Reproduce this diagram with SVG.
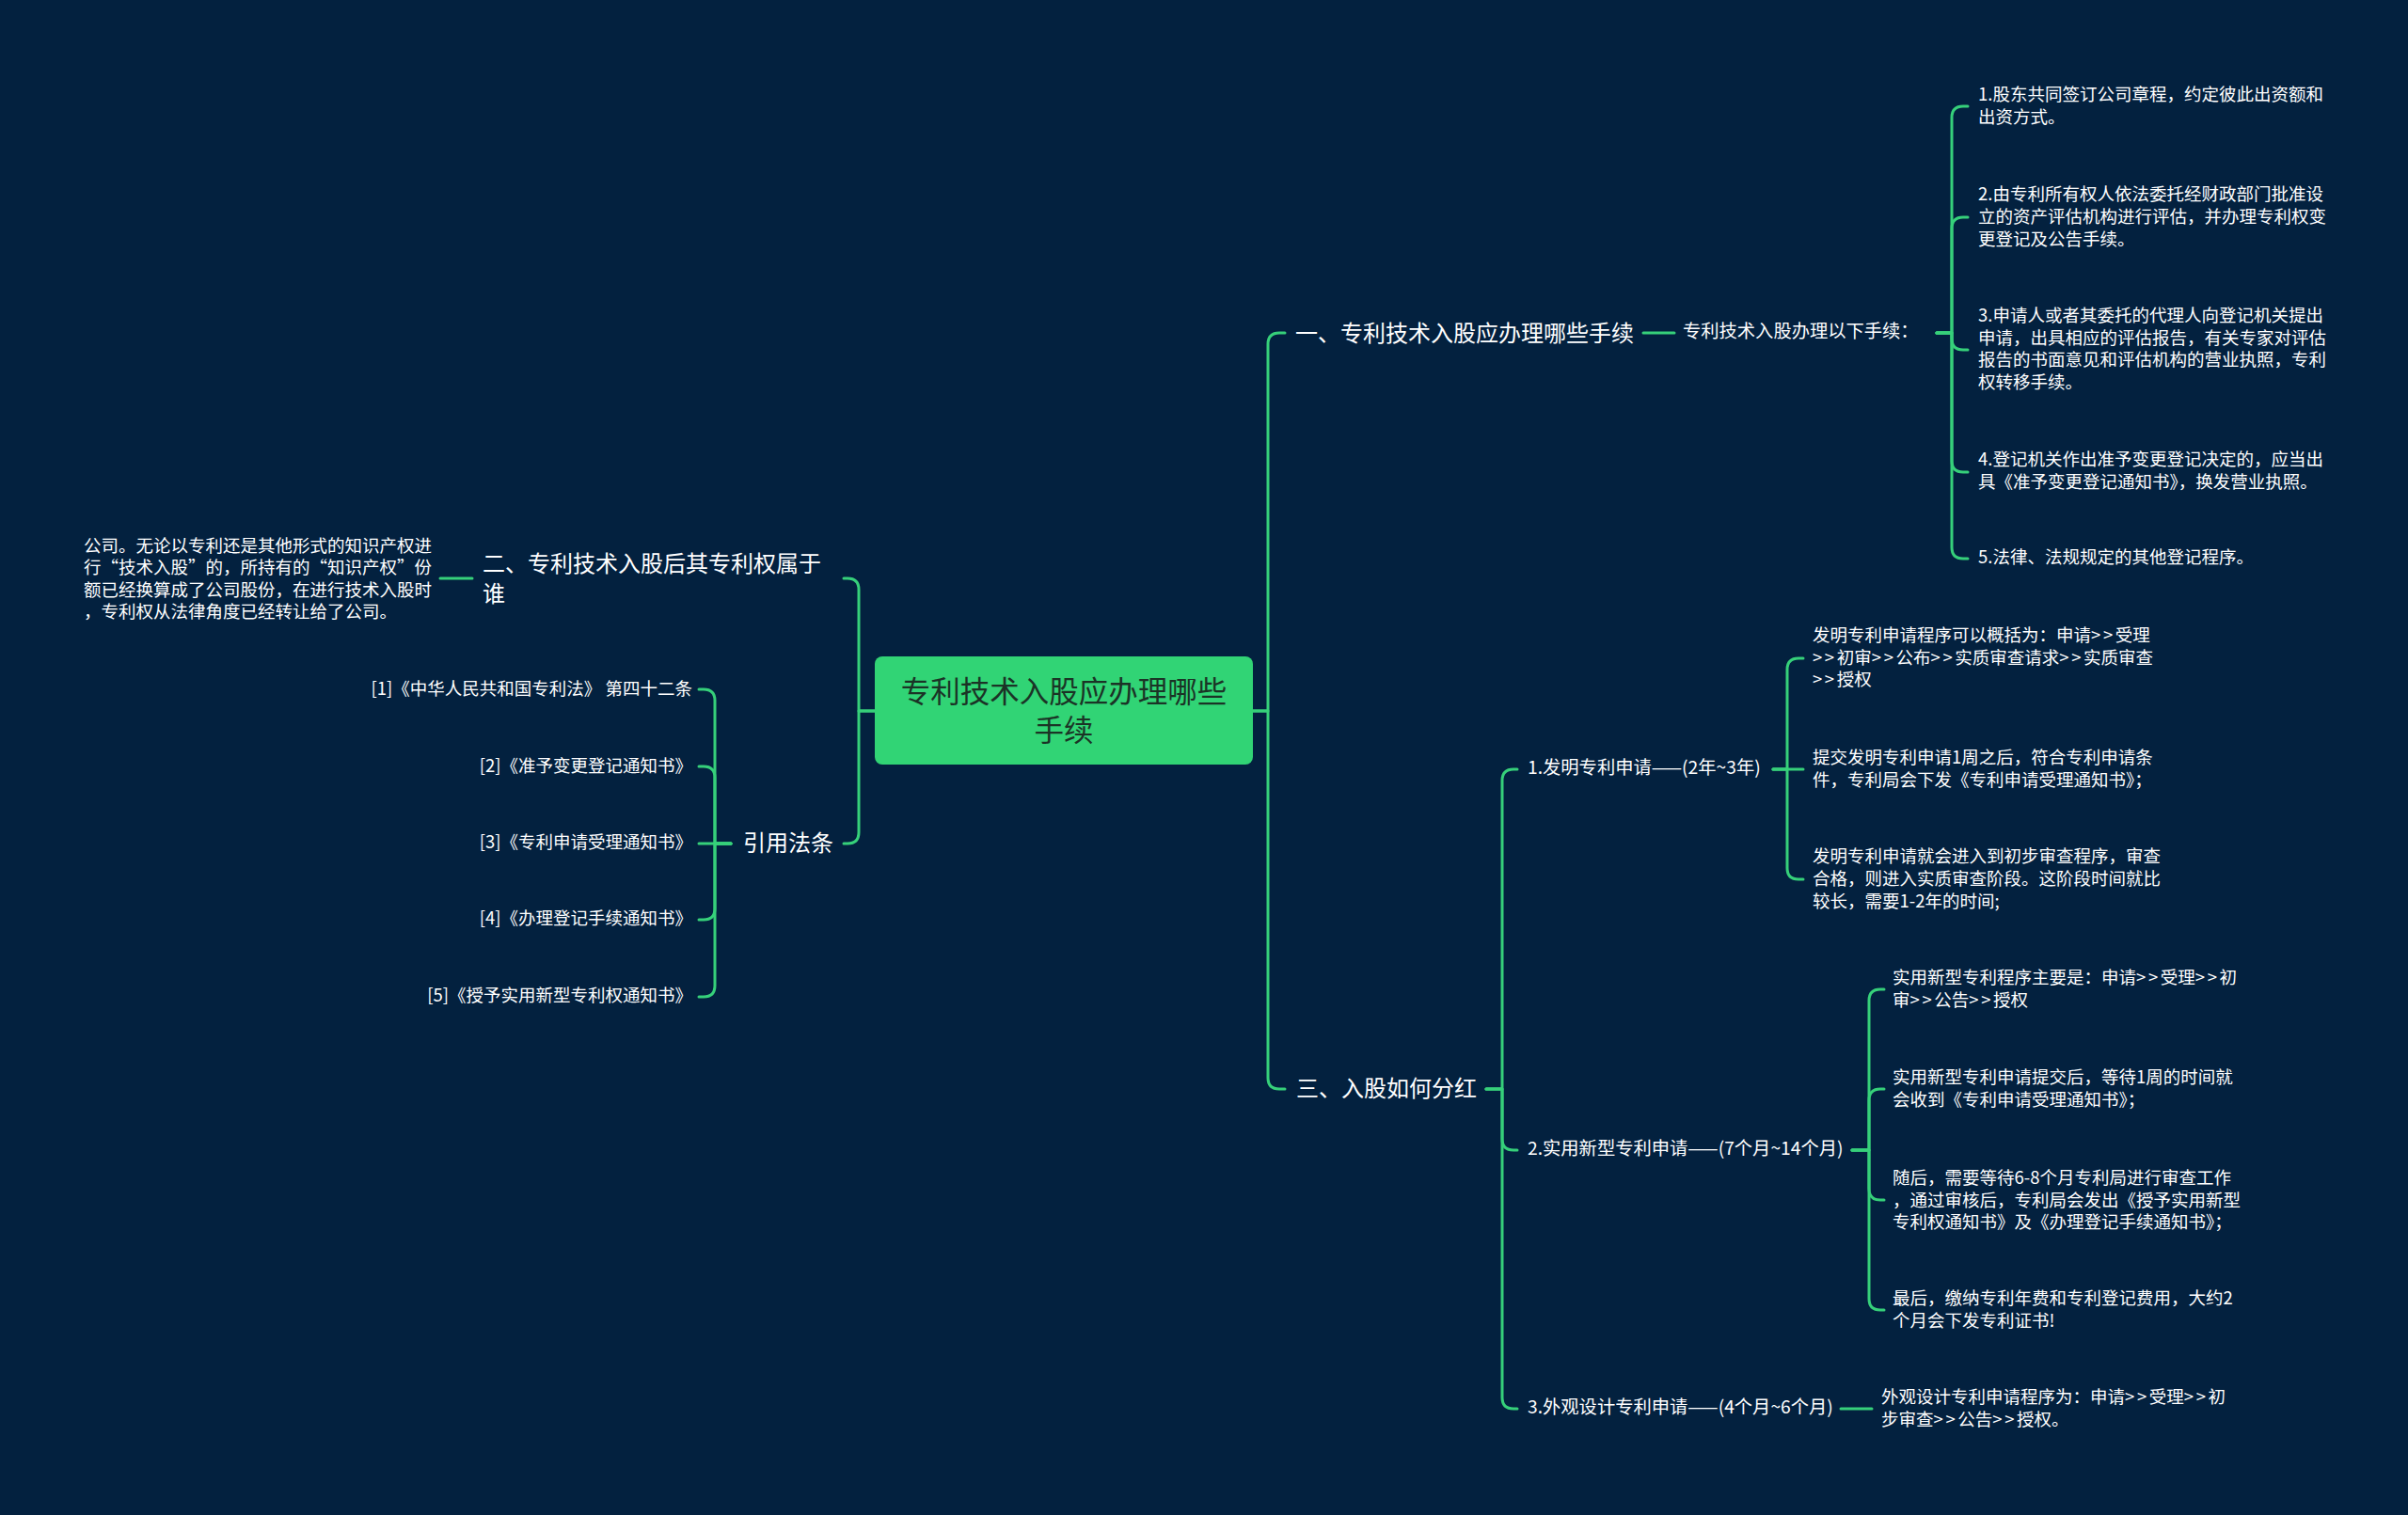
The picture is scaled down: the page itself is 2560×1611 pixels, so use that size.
<svg xmlns="http://www.w3.org/2000/svg" width="2560" height="1611" viewBox="0 0 2560 1611">
<style>
text{font-family:"Noto Sans CJK SC","Noto Sans",sans-serif;fill:#ffffff;dominant-baseline:central}
.leaf{font-size:18.5px}
.mid{font-size:19.3px}
.br{font-size:24px}
.root{font-size:31.5px;fill:#1b3326;text-anchor:middle}
.end{text-anchor:end}
.g{letter-spacing:2.6px}
#connectors path{fill:none;stroke:#36d07a;stroke-width:3;stroke-linecap:round;stroke-linejoin:round}
</style>
<rect x="0" y="0" width="2560" height="1611" fill="#03213f"/>
<g id="connectors">
<path d="M1332 756 H1348 V366 Q1348 354 1360 354 H1366"/>
<path d="M1332 756 H1348 V1146 Q1348 1158 1360 1158 H1366"/>
<path d="M930 756 H913 V627 Q913 615 901 615 H897"/>
<path d="M930 756 H913 V885 Q913 897 901 897 H897"/>
<path d="M1747 354 H1780"/>
<path d="M2059 354 H2075 V125 Q2075 113 2087 113 H2092"/>
<path d="M2059 354 H2075 V243 Q2075 231 2087 231 H2092"/>
<path d="M2059 354 H2075 V360 Q2075 372 2087 372 H2092"/>
<path d="M2059 354 H2075 V490 Q2075 502 2087 502 H2092"/>
<path d="M2059 354 H2075 V582 Q2075 594 2087 594 H2092"/>
<path d="M1580 1158 H1597 V830 Q1597 818 1609 818 H1613"/>
<path d="M1580 1158 H1597 V1211 Q1597 1223 1609 1223 H1613"/>
<path d="M1580 1158 H1597 V1486 Q1597 1498 1609 1498 H1613"/>
<path d="M1885 818 H1900 V712 Q1900 700 1912 700 H1917"/>
<path d="M1885 818 H1917"/>
<path d="M1885 818 H1900 V923 Q1900 935 1912 935 H1917"/>
<path d="M1969 1223 H1987 V1064 Q1987 1052 1999 1052 H2003"/>
<path d="M1969 1223 H1987 V1170 Q1987 1158 1999 1158 H2003"/>
<path d="M1969 1223 H1987 V1264 Q1987 1276 1999 1276 H2003"/>
<path d="M1969 1223 H1987 V1381 Q1987 1393 1999 1393 H2003"/>
<path d="M1957 1498 H1990"/>
<path d="M502 615 H468"/>
<path d="M777 897 H760 V745 Q760 733 748 733 H743"/>
<path d="M777 897 H760 V827 Q760 815 748 815 H743"/>
<path d="M777 897 H743"/>
<path d="M777 897 H760 V966 Q760 978 748 978 H743"/>
<path d="M777 897 H760 V1048 Q760 1060 748 1060 H743"/>
</g>
<g id="root">
<rect x="930" y="698" width="402" height="115" rx="8" fill="#31d475"/>
<text class="root" x="1131" y="733">专利技术入股应办理哪些</text>
<text class="root" x="1131" y="774">手续</text>
</g>
<g id="b1"><text class="br" x="1377" y="352">一、专利技术入股应办理哪些手续</text></g>
<g id="b1s"><text class="mid" x="1789" y="351">专利技术入股办理以下手续：</text></g>
<g id="b1l1"><text class="leaf" x="2103" y="98.5">1.股东共同签订公司章程，约定彼此出资额和</text><text class="leaf" x="2103" y="123">出资方式。</text></g>
<g id="b1l2"><text class="leaf" x="2103" y="205">2.由专利所有权人依法委托经财政部门批准设</text><text class="leaf" x="2103" y="229">立的资产评估机构进行评估，并办理专利权变</text><text class="leaf" x="2103" y="252.5">更登记及公告手续。</text></g>
<g id="b1l3"><text class="leaf" x="2103" y="334">3.申请人或者其委托的代理人向登记机关提出</text><text class="leaf" x="2103" y="357.5">申请，出具相应的评估报告，有关专家对评估</text><text class="leaf" x="2103" y="381">报告的书面意见和评估机构的营业执照，专利</text><text class="leaf" x="2103" y="405">权转移手续。</text></g>
<g id="b1l4"><text class="leaf" x="2103" y="487">4.登记机关作出准予变更登记决定的，应当出</text><text class="leaf" x="2103" y="511">具《准予变更登记通知书》，换发营业执照。</text></g>
<g id="b1l5"><text class="leaf" x="2103" y="591">5.法律、法规规定的其他登记程序。</text></g>
<g id="b3"><text class="br" x="1378" y="1155">三、入股如何分红</text></g>
<g id="b3a"><text class="mid" x="1624" y="815">1.发明专利申请——(2年~3年)</text></g>
<g id="b3b"><text class="mid" x="1624" y="1220">2.实用新型专利申请——(7个月~14个月)</text></g>
<g id="b3c"><text class="mid" x="1624" y="1495">3.外观设计专利申请——(4个月~6个月)</text></g>
<g id="b3a1"><text class="leaf" x="1927" y="674">发明专利申请程序可以概括为：申请<tspan class="g">&gt;&gt;</tspan>受理</text><text class="leaf" x="1927" y="697.5"><tspan class="g">&gt;&gt;</tspan>初审<tspan class="g">&gt;&gt;</tspan>公布<tspan class="g">&gt;&gt;</tspan>实质审查请求<tspan class="g">&gt;&gt;</tspan>实质审查</text><text class="leaf" x="1927" y="721"><tspan class="g">&gt;&gt;</tspan>授权</text></g>
<g id="b3a2"><text class="leaf" x="1927" y="804">提交发明专利申请1周之后，符合专利申请条</text><text class="leaf" x="1927" y="828">件，专利局会下发《专利申请受理通知书》；</text></g>
<g id="b3a3"><text class="leaf" x="1927" y="909">发明专利申请就会进入到初步审查程序，审查</text><text class="leaf" x="1927" y="932.5">合格，则进入实质审查阶段。这阶段时间就比</text><text class="leaf" x="1927" y="956.5">较长，需要1-2年的时间;</text></g>
<g id="b3b1"><text class="leaf" x="2012" y="1038">实用新型专利程序主要是：申请<tspan class="g">&gt;&gt;</tspan>受理<tspan class="g">&gt;&gt;</tspan>初</text><text class="leaf" x="2012" y="1061.5">审<tspan class="g">&gt;&gt;</tspan>公告<tspan class="g">&gt;&gt;</tspan>授权</text></g>
<g id="b3b2"><text class="leaf" x="2012" y="1144">实用新型专利申请提交后，等待1周的时间就</text><text class="leaf" x="2012" y="1168">会收到《专利申请受理通知书》；</text></g>
<g id="b3b3"><text class="leaf" x="2012" y="1251">随后，需要等待6-8个月专利局进行审查工作</text><text class="leaf" x="2012" y="1274.5">，通过审核后，专利局会发出《授予实用新型</text><text class="leaf" x="2012" y="1298">专利权通知书》及《办理登记手续通知书》；</text></g>
<g id="b3b4"><text class="leaf" x="2012" y="1379">最后，缴纳专利年费和专利登记费用，大约2</text><text class="leaf" x="2012" y="1403">个月会下发专利证书!</text></g>
<g id="b3c1"><text class="leaf" x="2000" y="1484">外观设计专利申请程序为：申请<tspan class="g">&gt;&gt;</tspan>受理<tspan class="g">&gt;&gt;</tspan>初</text><text class="leaf" x="2000" y="1508">步审查<tspan class="g">&gt;&gt;</tspan>公告<tspan class="g">&gt;&gt;</tspan>授权。</text></g>
<g id="b2"><text class="br" x="513" y="597">二、专利技术入股后其专利权属于</text><text class="br" x="513" y="629">谁</text></g>
<g id="b2l1"><text class="leaf" x="89" y="579">公司。无论以专利还是其他形式的知识产权进</text><text class="leaf" x="89" y="602">行“技术入股”的，所持有的“知识产权”份</text><text class="leaf" x="89" y="625.5">额已经换算成了公司股份，在进行技术入股时</text><text class="leaf" x="89" y="649">，专利权从法律角度已经转让给了公司。</text></g>
<g id="ref"><text class="br" x="790" y="894">引用法条</text></g>
<g id="ref1"><text class="leaf end" x="736" y="731">[1]《中华人民共和国专利法》 第四十二条</text></g>
<g id="ref2"><text class="leaf end" x="736" y="813">[2]《准予变更登记通知书》</text></g>
<g id="ref3"><text class="leaf end" x="736" y="894">[3]《专利申请受理通知书》</text></g>
<g id="ref4"><text class="leaf end" x="736" y="975">[4]《办理登记手续通知书》</text></g>
<g id="ref5"><text class="leaf end" x="736" y="1057">[5]《授予实用新型专利权通知书》</text></g>
</svg>
